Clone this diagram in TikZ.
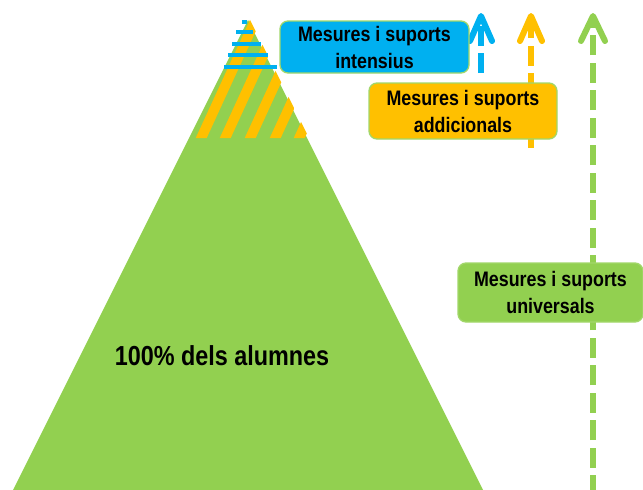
\documentclass[tikz,border=0pt]{standalone}
\usepackage{fontspec}
\newfontfamily\narrowsf[FakeStretch=0.85]{Liberation Sans}
\usepackage{tikz}
\definecolor{grn}{HTML}{92D050}
\definecolor{org}{HTML}{FFC000}
\definecolor{cyn}{HTML}{00B0F0}
\tikzset{
  supbox/.style={rectangle, draw=grn!85!white, line width=1.3pt, rounded corners=8pt,
    align=center, inner sep=0pt, text=black,
    font=\narrowsf\bfseries\fontsize{21}{27}\selectfont},
  shaft/.style={line width=6pt, dash pattern=on 20pt off 7.5pt},
  head/.style={line width=6pt, line cap=round, line join=round}
}

\begin{document}
\begin{tikzpicture}[line cap=round,line join=round,x=1pt,y=-1pt]
        \useasboundingbox (0,0) rectangle (643,490);

        % piramide
        \fill[grn] (13,490) -- (248,20) -- (483,490) -- cycle;
        \begin{scope}
          \clip (189,138) -- (249,18) -- (309,138) -- cycle;
          \foreach \sx in {198,222,247,272,296}
            \draw[org, line width=10pt, line cap=butt] (\sx,145) -- ++(62,-135);
        \end{scope}
        \foreach \ly/\lx/\rx in {22/242/247, 32/236/253, 44/232/261, 55/228/268, 67/224/277}
          \draw[cyn, line width=3.5pt, line cap=butt] (\lx,\ly) -- (\rx,\ly);

        % fletxes
        \coordinate (itop) at (481,16);
        \coordinate (ibot) at (481,73);
        \coordinate (atop) at (531,16);
        \coordinate (abot) at (531,148);
        \coordinate (utop) at (593,16);
        \coordinate (ubot) at (593,490);

        \draw[shaft, cyn, line cap=butt] (ibot) -- (itop);
        \draw[head, cyn] (itop) ++(-11,25) -- (itop) -- ++(11,25);
        \draw[shaft, org, line cap=butt] (abot) -- (atop);
        \draw[head, org] (atop) ++(-11,25) -- (atop) -- ++(11,25);
        \draw[shaft, grn, line cap=butt, dash phase=5pt] (ubot) -- (utop);
        \draw[head, grn] (utop) ++(-12,25) -- (utop) -- ++(12,25);

        % etiquetes
        \node[supbox, fill=cyn, minimum width=189pt, minimum height=52pt] (intens) at (374.5,47) {Mesures i suports\\intensius};
        \node[supbox, fill=org, minimum width=188pt, minimum height=56pt] (addic) at (463,111) {Mesures i suports\\addicionals};
        \node[supbox, fill=grn, minimum width=185pt, minimum height=59pt] (univ) at (550.5,292.5) {Mesures i suports\\universals};

        \node[font=\narrowsf\bfseries\fontsize{27.5}{33}\selectfont] (alumnes) at (222,356) {100\% dels alumnes};

\end{tikzpicture}
\end{document}
